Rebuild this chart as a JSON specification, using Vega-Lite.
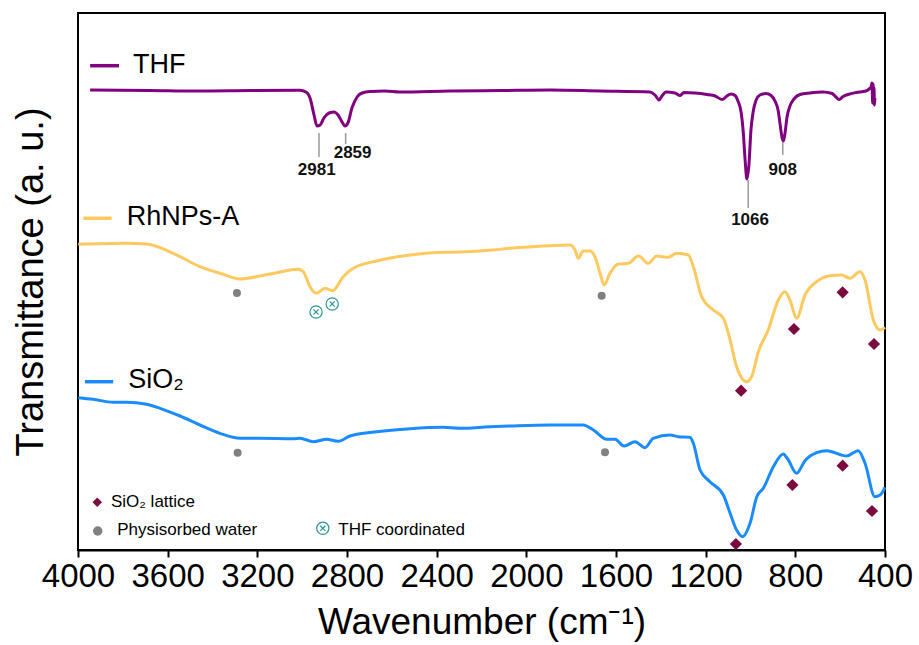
{
  "$schema": "https://vega.github.io/schema/vega-lite/v6.json",
  "width": 807,
  "height": 537,
  "autosize": "none",
  "padding": {"left": 78, "top": 13, "right": 34, "bottom": 95},
  "background": "white",
  "config": {
    "view": {"stroke": "black", "strokeWidth": 2},
    "font": "Liberation Sans",
    "axis": {"grid": false, "labelFont": "Liberation Sans", "titleFont": "Liberation Sans", "titleFontWeight": "normal", "labelColor": "black", "titleColor": "black"}
  },
  "datasets": {
    "spectra": [
      {"series": "THF", "wn": 3946, "t": 460}, {"series": "THF", "wn": 3679, "t": 459.5}, {"series": "THF", "wn": 3456, "t": 459}, {"series": "THF", "wn": 3233, "t": 459.5}, {"series": "THF", "wn": 3010, "t": 459.7}, {"series": "THF", "wn": 2983, "t": 458}, {"series": "THF", "wn": 2965, "t": 452}, {"series": "THF", "wn": 2947, "t": 435}, {"series": "THF", "wn": 2934, "t": 424}, {"series": "THF", "wn": 2920, "t": 425}, {"series": "THF", "wn": 2903, "t": 432}, {"series": "THF", "wn": 2880, "t": 437}, {"series": "THF", "wn": 2858, "t": 438}, {"series": "THF", "wn": 2840, "t": 435}, {"series": "THF", "wn": 2822, "t": 428}, {"series": "THF", "wn": 2809, "t": 424}, {"series": "THF", "wn": 2796, "t": 427}, {"series": "THF", "wn": 2778, "t": 442}, {"series": "THF", "wn": 2755, "t": 453}, {"series": "THF", "wn": 2733, "t": 457}, {"series": "THF", "wn": 2697, "t": 458.5}, {"series": "THF", "wn": 2631, "t": 459}, {"series": "THF", "wn": 2564, "t": 458}, {"series": "THF", "wn": 2340, "t": 459}, {"series": "THF", "wn": 2117, "t": 459.5}, {"series": "THF", "wn": 1894, "t": 460}, {"series": "THF", "wn": 1671, "t": 459}, {"series": "THF", "wn": 1448, "t": 458}, {"series": "THF", "wn": 1426, "t": 455}, {"series": "THF", "wn": 1408, "t": 450}, {"series": "THF", "wn": 1395, "t": 454}, {"series": "THF", "wn": 1377, "t": 458}, {"series": "THF", "wn": 1337, "t": 457}, {"series": "THF", "wn": 1314, "t": 454.5}, {"series": "THF", "wn": 1297, "t": 457.5}, {"series": "THF", "wn": 1248, "t": 457}, {"series": "THF", "wn": 1194, "t": 455.5}, {"series": "THF", "wn": 1158, "t": 454}, {"series": "THF", "wn": 1127, "t": 450.5}, {"series": "THF", "wn": 1105, "t": 454}, {"series": "THF", "wn": 1087, "t": 456}, {"series": "THF", "wn": 1069, "t": 454.5}, {"series": "THF", "wn": 1056, "t": 449}, {"series": "THF", "wn": 1042, "t": 438}, {"series": "THF", "wn": 1033, "t": 420}, {"series": "THF", "wn": 1024, "t": 390}, {"series": "THF", "wn": 1016, "t": 371}, {"series": "THF", "wn": 1007, "t": 385}, {"series": "THF", "wn": 998, "t": 420}, {"series": "THF", "wn": 989, "t": 437}, {"series": "THF", "wn": 975, "t": 450}, {"series": "THF", "wn": 958, "t": 455}, {"series": "THF", "wn": 931, "t": 456.5}, {"series": "THF", "wn": 908, "t": 454.5}, {"series": "THF", "wn": 891, "t": 449}, {"series": "THF", "wn": 877, "t": 440}, {"series": "THF", "wn": 868, "t": 426}, {"series": "THF", "wn": 859, "t": 412}, {"series": "THF", "wn": 853, "t": 409}, {"series": "THF", "wn": 846, "t": 417}, {"series": "THF", "wn": 837, "t": 433}, {"series": "THF", "wn": 824, "t": 444}, {"series": "THF", "wn": 806, "t": 451}, {"series": "THF", "wn": 779, "t": 455.5}, {"series": "THF", "wn": 735, "t": 457}, {"series": "THF", "wn": 677, "t": 458}, {"series": "THF", "wn": 636, "t": 456.5}, {"series": "THF", "wn": 619, "t": 453}, {"series": "THF", "wn": 605, "t": 450.5}, {"series": "THF", "wn": 587, "t": 453.5}, {"series": "THF", "wn": 565, "t": 455.5}, {"series": "THF", "wn": 529, "t": 457.5}, {"series": "THF", "wn": 485, "t": 459}, {"series": "THF", "wn": 471, "t": 461}, {"series": "THF", "wn": 462, "t": 463}, {"series": "THF", "wn": 458, "t": 467}, {"series": "THF", "wn": 455, "t": 447}, {"series": "THF", "wn": 453, "t": 466}, {"series": "THF", "wn": 451, "t": 448}, {"series": "THF", "wn": 449, "t": 462}, {"series": "THF", "wn": 447, "t": 445}, {"series": "THF", "wn": 445, "t": 452},

      {"series": "RhNPs-A", "wn": 3999, "t": 305.7}, {"series": "RhNPs-A", "wn": 3783, "t": 306.7}, {"series": "RhNPs-A", "wn": 3694, "t": 306}, {"series": "RhNPs-A", "wn": 3575, "t": 296.7}, {"series": "RhNPs-A", "wn": 3456, "t": 283.3}, {"series": "RhNPs-A", "wn": 3367, "t": 276.7}, {"series": "RhNPs-A", "wn": 3277, "t": 271}, {"series": "RhNPs-A", "wn": 3188, "t": 274}, {"series": "RhNPs-A", "wn": 3114, "t": 277.3}, {"series": "RhNPs-A", "wn": 3017, "t": 280.7}, {"series": "RhNPs-A", "wn": 2995, "t": 278.3}, {"series": "RhNPs-A", "wn": 2965, "t": 263.3}, {"series": "RhNPs-A", "wn": 2938, "t": 256.7}, {"series": "RhNPs-A", "wn": 2898, "t": 261.7}, {"series": "RhNPs-A", "wn": 2864, "t": 259.3}, {"series": "RhNPs-A", "wn": 2817, "t": 273.3}, {"series": "RhNPs-A", "wn": 2772, "t": 281.7}, {"series": "RhNPs-A", "wn": 2667, "t": 289}, {"series": "RhNPs-A", "wn": 2519, "t": 295}, {"series": "RhNPs-A", "wn": 2370, "t": 297.7}, {"series": "RhNPs-A", "wn": 2296, "t": 298}, {"series": "RhNPs-A", "wn": 2149, "t": 300}, {"series": "RhNPs-A", "wn": 2073, "t": 301.7}, {"series": "RhNPs-A", "wn": 1894, "t": 304.3}, {"series": "RhNPs-A", "wn": 1805, "t": 305}, {"series": "RhNPs-A", "wn": 1783, "t": 300}, {"series": "RhNPs-A", "wn": 1768, "t": 291.7}, {"series": "RhNPs-A", "wn": 1746, "t": 299}, {"series": "RhNPs-A", "wn": 1716, "t": 299}, {"series": "RhNPs-A", "wn": 1694, "t": 293.3}, {"series": "RhNPs-A", "wn": 1671, "t": 276.7}, {"series": "RhNPs-A", "wn": 1653, "t": 265}, {"series": "RhNPs-A", "wn": 1627, "t": 276.7}, {"series": "RhNPs-A", "wn": 1590, "t": 286}, {"series": "RhNPs-A", "wn": 1545, "t": 286.7}, {"series": "RhNPs-A", "wn": 1500, "t": 294}, {"series": "RhNPs-A", "wn": 1456, "t": 286.7}, {"series": "RhNPs-A", "wn": 1418, "t": 294}, {"series": "RhNPs-A", "wn": 1367, "t": 292.7}, {"series": "RhNPs-A", "wn": 1329, "t": 296.7}, {"series": "RhNPs-A", "wn": 1277, "t": 295}, {"series": "RhNPs-A", "wn": 1255, "t": 283.3}, {"series": "RhNPs-A", "wn": 1218, "t": 253.3}, {"series": "RhNPs-A", "wn": 1166, "t": 240}, {"series": "RhNPs-A", "wn": 1121, "t": 231.7}, {"series": "RhNPs-A", "wn": 1091, "t": 210}, {"series": "RhNPs-A", "wn": 1062, "t": 183.3}, {"series": "RhNPs-A", "wn": 1017, "t": 168.3}, {"series": "RhNPs-A", "wn": 995, "t": 173.3}, {"series": "RhNPs-A", "wn": 965, "t": 198.3}, {"series": "RhNPs-A", "wn": 921, "t": 220}, {"series": "RhNPs-A", "wn": 876, "t": 250}, {"series": "RhNPs-A", "wn": 846, "t": 258.3}, {"series": "RhNPs-A", "wn": 824, "t": 250}, {"series": "RhNPs-A", "wn": 794, "t": 231.7}, {"series": "RhNPs-A", "wn": 757, "t": 255}, {"series": "RhNPs-A", "wn": 705, "t": 268.3}, {"series": "RhNPs-A", "wn": 645, "t": 274.3}, {"series": "RhNPs-A", "wn": 593, "t": 275}, {"series": "RhNPs-A", "wn": 556, "t": 271.7}, {"series": "RhNPs-A", "wn": 512, "t": 278.3}, {"series": "RhNPs-A", "wn": 489, "t": 270}, {"series": "RhNPs-A", "wn": 452, "t": 230}, {"series": "RhNPs-A", "wn": 422, "t": 220}, {"series": "RhNPs-A", "wn": 400, "t": 222.7},

      {"series": "SiO2", "wn": 3999, "t": 152.3}, {"series": "SiO2", "wn": 3932, "t": 150.7}, {"series": "SiO2", "wn": 3843, "t": 147.7}, {"series": "SiO2", "wn": 3783, "t": 147.7}, {"series": "SiO2", "wn": 3694, "t": 145.7}, {"series": "SiO2", "wn": 3634, "t": 141.7}, {"series": "SiO2", "wn": 3545, "t": 134}, {"series": "SiO2", "wn": 3456, "t": 125}, {"series": "SiO2", "wn": 3367, "t": 116.7}, {"series": "SiO2", "wn": 3277, "t": 111.7}, {"series": "SiO2", "wn": 3188, "t": 111.7}, {"series": "SiO2", "wn": 3040, "t": 111.3}, {"series": "SiO2", "wn": 3010, "t": 111.7}, {"series": "SiO2", "wn": 2950, "t": 108.3}, {"series": "SiO2", "wn": 2891, "t": 110.7}, {"series": "SiO2", "wn": 2839, "t": 108.7}, {"series": "SiO2", "wn": 2787, "t": 114}, {"series": "SiO2", "wn": 2667, "t": 118.3}, {"series": "SiO2", "wn": 2519, "t": 121.3}, {"series": "SiO2", "wn": 2370, "t": 122.7}, {"series": "SiO2", "wn": 2296, "t": 121.7}, {"series": "SiO2", "wn": 2162, "t": 123.3}, {"series": "SiO2", "wn": 2073, "t": 124}, {"series": "SiO2", "wn": 1894, "t": 125}, {"series": "SiO2", "wn": 1746, "t": 125}, {"series": "SiO2", "wn": 1701, "t": 120}, {"series": "SiO2", "wn": 1641, "t": 110.7}, {"series": "SiO2", "wn": 1604, "t": 110.7}, {"series": "SiO2", "wn": 1564, "t": 104}, {"series": "SiO2", "wn": 1515, "t": 108.3}, {"series": "SiO2", "wn": 1471, "t": 102.3}, {"series": "SiO2", "wn": 1434, "t": 111.7}, {"series": "SiO2", "wn": 1359, "t": 115}, {"series": "SiO2", "wn": 1322, "t": 113.3}, {"series": "SiO2", "wn": 1270, "t": 112.7}, {"series": "SiO2", "wn": 1255, "t": 106.7}, {"series": "SiO2", "wn": 1225, "t": 80}, {"series": "SiO2", "wn": 1181, "t": 68.3}, {"series": "SiO2", "wn": 1121, "t": 55}, {"series": "SiO2", "wn": 1091, "t": 36.7}, {"series": "SiO2", "wn": 1062, "t": 20}, {"series": "SiO2", "wn": 1035, "t": 13.3}, {"series": "SiO2", "wn": 1002, "t": 26.7}, {"series": "SiO2", "wn": 972, "t": 53.3}, {"series": "SiO2", "wn": 943, "t": 61.7}, {"series": "SiO2", "wn": 898, "t": 83.3}, {"series": "SiO2", "wn": 854, "t": 96}, {"series": "SiO2", "wn": 836, "t": 91.7}, {"series": "SiO2", "wn": 794, "t": 76.7}, {"series": "SiO2", "wn": 757, "t": 89.3}, {"series": "SiO2", "wn": 705, "t": 97.3}, {"series": "SiO2", "wn": 660, "t": 99.3}, {"series": "SiO2", "wn": 571, "t": 94}, {"series": "SiO2", "wn": 519, "t": 99.3}, {"series": "SiO2", "wn": 489, "t": 86.7}, {"series": "SiO2", "wn": 445, "t": 53.3}, {"series": "SiO2", "wn": 422, "t": 55}, {"series": "SiO2", "wn": 400, "t": 62.7}
    ],
    "legendLines": [
      {"series": "THF", "wn": 3946, "t": 484.3}, {"series": "THF", "wn": 3817, "t": 484.3},
      {"series": "RhNPs-A", "wn": 3976, "t": 331.7}, {"series": "RhNPs-A", "wn": 3850, "t": 331.7},
      {"series": "SiO2", "wn": 3969, "t": 168.3}, {"series": "SiO2", "wn": 3843, "t": 168.3}
    ],
    "legendText": [
      {"label": "THF", "wn": 3755, "t": 485},
      {"label": "RhNPs-A", "wn": 3783, "t": 333},
      {"label": "SiO₂", "wn": 3776, "t": 170}
    ],
    "leaders": [
      {"wn": 2925, "t1": 417, "t2": 393},
      {"wn": 2806, "t1": 417, "t2": 406},
      {"wn": 1010, "t1": 370, "t2": 342},
      {"wn": 856, "t1": 408, "t2": 395}
    ],
    "peaks": [
      {"label": "2981", "wn": 2935, "t": 380},
      {"label": "2859", "wn": 2775, "t": 397},
      {"label": "1066", "wn": 1002, "t": 330},
      {"label": "908", "wn": 856, "t": 380}
    ],
    "markers": [
      {"type": "Physisorbed water", "wn": 3291, "t": 257},
      {"type": "Physisorbed water", "wn": 1664, "t": 254.3},
      {"type": "Physisorbed water", "wn": 3288, "t": 97.3},
      {"type": "Physisorbed water", "wn": 1649, "t": 97.7},
      {"type": "SiO2 lattice", "wn": 1042, "t": 159.3},
      {"type": "SiO2 lattice", "wn": 806, "t": 221},
      {"type": "SiO2 lattice", "wn": 589, "t": 257.7},
      {"type": "SiO2 lattice", "wn": 449, "t": 206},
      {"type": "SiO2 lattice", "wn": 1065, "t": 6},
      {"type": "SiO2 lattice", "wn": 813, "t": 65},
      {"type": "SiO2 lattice", "wn": 589, "t": 84.3},
      {"type": "SiO2 lattice", "wn": 458, "t": 39}
    ],
    "thfMarkers": [
      {"wn": 2938, "t": 238},
      {"wn": 2866, "t": 246},
      {"wn": 2908, "t": 21.7}
    ],
    "keyMarkers": [
      {"type": "SiO2 lattice", "wn": 3914, "t": 47.7},
      {"type": "Physisorbed water", "wn": 3912, "t": 19}
    ],
    "keyText": [
      {"label": "SiO₂ lattice", "wn": 3853, "t": 48},
      {"label": "Physisorbed water", "wn": 3825, "t": 20},
      {"label": "THF coordinated", "wn": 2839, "t": 20}
    ]
  },
  "layer": [
    {
      "data": {"name": "spectra"},
      "mark": {"type": "line", "strokeWidth": 3, "strokeJoin": "round", "interpolate": "monotone"},
      "encoding": {
        "x": {"field": "wn", "type": "quantitative", "scale": {"domain": [400, 4000], "reverse": true, "nice": false, "zero": false},
          "axis": {"values": [4000, 3600, 3200, 2800, 2400, 2000, 1600, 1200, 800, 400], "format": "d", "title": "Wavenumber (cm⁻¹)", "labelFontSize": 33, "titleFontSize": 37, "tickSize": 7, "tickWidth": 2, "tickColor": "black", "domainColor": "black", "domainWidth": 2, "labelPadding": 3, "titlePadding": 11, "labelFlush": false, "labelOverlap": false}},
        "y": {"field": "t", "type": "quantitative", "scale": {"domain": [0, 537], "nice": false, "zero": false},
          "axis": {"title": "Transmittance (a. u.)", "labels": false, "ticks": false, "domain": false, "titleFontSize": 38, "titlePadding": 28}},
        "color": {"field": "series", "type": "nominal", "scale": {"domain": ["THF", "RhNPs-A", "SiO2"], "range": ["#800080", "#FFC95F", "#1A8CFF"]}, "legend": null},
        "detail": {"field": "series"}
      }
    },
    {
      "data": {"name": "legendLines"},
      "mark": {"type": "line", "strokeWidth": 3.5},
      "encoding": {
        "x": {"field": "wn", "type": "quantitative"},
        "y": {"field": "t", "type": "quantitative"},
        "color": {"field": "series", "type": "nominal", "legend": null},
        "detail": {"field": "series"}
      }
    },
    {
      "data": {"name": "legendText"},
      "mark": {"type": "text", "align": "left", "baseline": "middle", "fontSize": 27, "font": "Liberation Sans", "color": "black"},
      "encoding": {
        "x": {"field": "wn", "type": "quantitative"},
        "y": {"field": "t", "type": "quantitative"},
        "text": {"field": "label"}
      }
    },
    {
      "data": {"name": "leaders"},
      "mark": {"type": "rule", "color": "#999999", "strokeWidth": 1.5},
      "encoding": {
        "x": {"field": "wn", "type": "quantitative"},
        "y": {"field": "t1", "type": "quantitative"},
        "y2": {"field": "t2"}
      }
    },
    {
      "data": {"name": "peaks"},
      "mark": {"type": "text", "align": "center", "baseline": "middle", "fontSize": 17, "fontWeight": "bold", "font": "Liberation Sans", "color": "#111111"},
      "encoding": {
        "x": {"field": "wn", "type": "quantitative"},
        "y": {"field": "t", "type": "quantitative"},
        "text": {"field": "label"}
      }
    },
    {
      "data": {"name": "markers"},
      "mark": {"type": "point", "filled": true, "opacity": 1},
      "encoding": {
        "x": {"field": "wn", "type": "quantitative"},
        "y": {"field": "t", "type": "quantitative"},
        "shape": {"field": "type", "type": "nominal", "scale": {"domain": ["SiO2 lattice", "Physisorbed water"], "range": ["diamond", "circle"]}, "legend": null},
        "fill": {"field": "type", "type": "nominal", "scale": {"domain": ["SiO2 lattice", "Physisorbed water"], "range": ["#7B0B3F", "#808080"]}, "legend": null},
        "size": {"field": "type", "type": "nominal", "scale": {"domain": ["SiO2 lattice", "Physisorbed water"], "range": [150, 64]}, "legend": null}
      }
    },
    {
      "data": {"name": "keyMarkers"},
      "mark": {"type": "point", "filled": true, "opacity": 1},
      "encoding": {
        "x": {"field": "wn", "type": "quantitative"},
        "y": {"field": "t", "type": "quantitative"},
        "shape": {"field": "type", "type": "nominal", "legend": null},
        "fill": {"field": "type", "type": "nominal", "legend": null},
        "size": {"value": 90}
      }
    },
    {
      "data": {"name": "thfMarkers"},
      "mark": {"type": "point", "filled": false, "shape": "circle", "size": 150, "stroke": "#2A9595", "strokeWidth": 1.2, "opacity": 1},
      "encoding": {
        "x": {"field": "wn", "type": "quantitative"},
        "y": {"field": "t", "type": "quantitative"}
      }
    },
    {
      "data": {"name": "thfMarkers"},
      "mark": {"type": "point", "filled": false, "shape": "M-0.42,-0.42L0.42,0.42M-0.42,0.42L0.42,-0.42", "size": 150, "stroke": "#2A9595", "strokeWidth": 1.2, "opacity": 1},
      "encoding": {
        "x": {"field": "wn", "type": "quantitative"},
        "y": {"field": "t", "type": "quantitative"}
      }
    },
    {
      "data": {"name": "keyText"},
      "mark": {"type": "text", "align": "left", "baseline": "middle", "fontSize": 17, "font": "Liberation Sans", "color": "black"},
      "encoding": {
        "x": {"field": "wn", "type": "quantitative"},
        "y": {"field": "t", "type": "quantitative"},
        "text": {"field": "label"}
      }
    }
  ],
  "resolve": {"scale": {"shape": "shared", "fill": "shared", "size": "independent"}}
}
